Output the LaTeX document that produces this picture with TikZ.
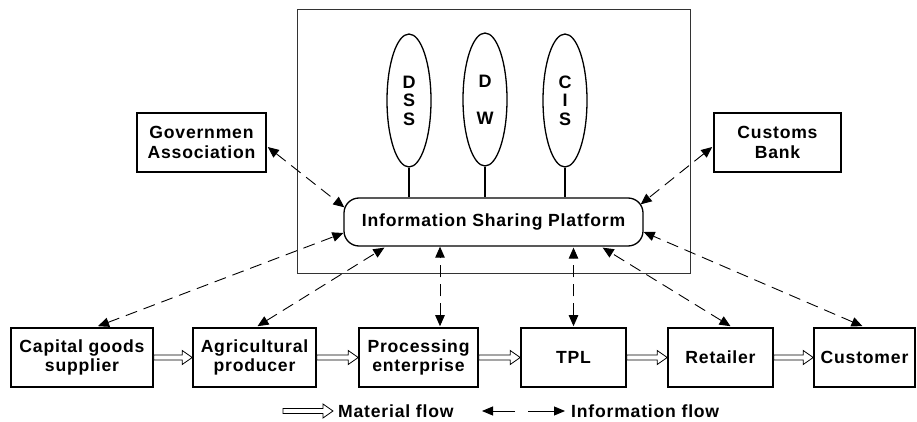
\documentclass[tikz,border=0pt]{standalone}
\usepackage{fontspec}
\setmainfont{Liberation Sans}[LetterSpace=4.5]
\usetikzlibrary{shapes.geometric,arrows.meta,calc}
\begin{document}
\begin{tikzpicture}[x=1pt,y=-1pt,
  font=\bfseries\fontsize{17.6}{19.5}\selectfont,
  box/.style={draw,line width=1.6pt,inner sep=0pt,align=center,minimum height=59pt},
  platformbox/.style={draw,line width=1.3pt,rounded corners=15pt,inner sep=0pt,
    minimum width=299pt,minimum height=48pt},
  frame/.style={draw=black!80,line width=0.9pt,inner sep=0pt,minimum width=393pt,minimum height=264pt},
  sysell/.style={draw,ellipse,line width=1.3pt,inner sep=0pt,minimum width=44pt,minimum height=133pt,
    align=center,font=\bfseries\fontsize{18}{18.5}\selectfont},
  stem/.style={line width=1.5pt},
  info/.style={draw,line width=0.9pt,dash pattern=on 12pt off 7pt,{Triangle[length=11pt,width=9.5pt]}-{Triangle[length=11pt,width=9.5pt]}},
  matflow/.style={draw,line width=0.8pt,fill=white,to path={
    ($(\tikztostart)+(0,2.5)$) -- ($(\tikztotarget)+(-10,2.5)$) -- ($(\tikztotarget)+(-10,7)$)
    -- (\tikztotarget) -- ($(\tikztotarget)+(-10,-7)$) -- ($(\tikztotarget)+(-10,-2.5)$)
    -- ($(\tikztostart)+(0,-2.5)$) -- cycle}}
]
\useasboundingbox (0,0) rectangle (917,422);

% enclosing frame of the platform
\node[frame] (frame) at (493.5,141) {};

% decision, warehouse and information systems
\node[sysell] (dss) at (409,100.5) {D\\S\\S};
\node[sysell] (dw)  at (485,99.5) {D\\ \\W};
\node[sysell] (cis) at (565,100.5) {C\\I\\S};

% central platform
\node[platformbox] (isp) at (493.5,222) {Information Sharing Platform};

\draw[stem] (dss.south) -- (dss.south |- isp.north);
\draw[stem] (dw.south)  -- (dw.south |- isp.north);
\draw[stem] (cis.south) -- (cis.south |- isp.north);

% outside parties
\node[box,minimum width=129pt] (gov) at (201.5,142.5) {Governmen\\Association};
\node[box,minimum width=127pt] (cus) at (777.5,142.5) {Customs\\Bank};

% supply chain members
\node[box,minimum width=142pt] (cap)  at (82,357.5)    {Capital goods\\supplier};
\node[box,minimum width=123pt] (agri) at (254.5,357.5) {Agricultural\\producer};
\node[box,minimum width=119pt] (proc) at (418.5,357.5) {Processing\\enterprise};
\node[box,minimum width=105pt] (tpl)  at (573.5,357.5) {TPL};
\node[box,minimum width=105pt] (ret)  at (720.5,357.5) {Retailer};
\node[box,minimum width=101pt] (cust) at (864.5,357.5) {Customer};

% material flow
\draw[matflow] (cap.east)  to (agri.west);
\draw[matflow] (agri.east) to (proc.west);
\draw[matflow] (proc.east) to (tpl.west);
\draw[matflow] (tpl.east)  to (ret.west);
\draw[matflow] (ret.east)  to (cust.west);

% information flow
\draw[info] ($(gov.east)+(1,4.5)$) -- ($(isp.north west)+(1,10)$);
\draw[info] ($(cus.west)+(-1,4.5)$) -- ($(isp.north east)+(-3,7)$);
\draw[info] ($(cap.north)+(16,-1)$) -- ($(isp.west)+(0,11)$);
\draw[info] ($(agri.north)+(3,-1)$) -- ($(isp.south west)+(41,1)$);
\coordinate (pa) at ($(proc.north)+(21.5,-1)$);
\draw[info] (pa) -- (pa |- isp.south);
\draw[info] ($(tpl.north)+(0,-1)$) -- ($(tpl.north |- isp.south)+(0,1)$);
\draw[info] ($(ret.north)+(10,-1)$) -- ($(isp.south east)+(-41,1)$);
\draw[info] ($(cust.north)+(-2,-1)$) -- ($(isp.east)+(0,10)$);

% legend
\coordinate (m0) at (283,411);
\coordinate (m1) at (333,411);
\draw[matflow] (m0) to (m1);
\node[anchor=west,inner sep=0pt] (mlab) at (338,411) {Material flow};
\coordinate (i0) at (515,411);
\coordinate (i1) at (482,411);
\coordinate (i2) at (528,411);
\coordinate (i3) at (565,411);
\draw[line width=0.9pt,-{Triangle[length=11pt,width=9pt]}] (i0) -- (i1);
\draw[line width=0.9pt,-{Triangle[length=11pt,width=9pt]}] (i2) -- (i3);
\node[anchor=west,inner sep=0pt] (ilab) at (571,411) {Information flow};
\end{tikzpicture}
\end{document}
